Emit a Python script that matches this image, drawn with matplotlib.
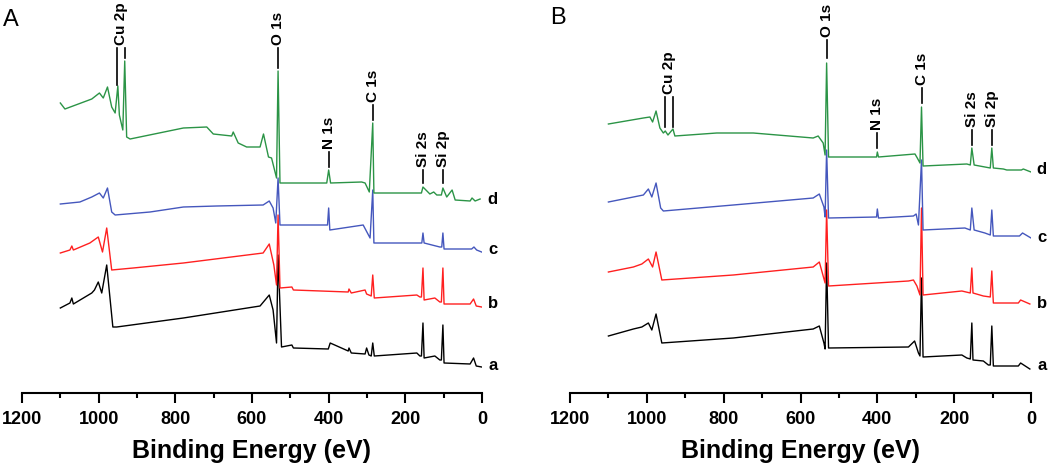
import matplotlib
matplotlib.use('Agg')
import matplotlib.pyplot as plt
from matplotlib.ticker import MultipleLocator

plt.rcParams['font.family'] = ['Liberation Sans', 'DejaVu Sans']

# Survey spectra: binding energy (eV) and intensity (a.u.)
# Panel A
A_a_energy = [1100, 1075, 1070, 1066, 1018, 1011, 1001, 992, 979, 963, 953, 779, 579, 555, 545, 536, 532, 523,
              496, 492, 401, 396, 349, 347, 341, 305, 301, 295, 289, 285, 281, 170, 162, 158, 154, 151, 123, 110,
              106, 102, 99, 31, 22, 15, 1]
A_a_counts = [85, 90, 95, 89, 100, 103, 111, 100, 128, 66, 66, 75, 87, 98, 83, 50, 138, 46,
              48, 45, 44, 50, 42, 45, 40, 39, 45, 38, 37, 50, 37, 40, 37, 37, 70, 35, 37, 33,
              33, 68, 30, 29, 35, 27, 26]

A_b_energy = [1100, 1075, 1070, 1066, 1023, 1001, 990, 979, 966, 910, 779, 571, 555, 543, 536, 532, 527, 496,
              492, 349, 347, 341, 305, 301, 289, 285, 281, 170, 162, 158, 154, 151, 123, 110, 106, 102, 99, 31,
              22, 15, 1]
A_b_counts = [140, 143, 147, 143, 150, 156, 141, 165, 123, 125, 130, 140, 149, 128, 108, 178, 105, 106,
              103, 101, 104, 100, 103, 99, 97, 118, 95, 98, 96, 96, 125, 93, 95, 91, 91, 125, 89, 89,
              94, 87, 86]

A_c_energy = [1100, 1049, 1018, 998, 988, 977, 966, 957, 866, 779, 692, 571, 555, 545, 538, 532, 527, 423,
              403, 400, 397, 310, 292, 285, 282, 162, 157, 154, 151, 110, 105, 102, 99, 27, 21, 14, 1]
A_c_counts = [189, 191, 196, 200, 195, 205, 181, 178, 181, 186, 187, 188, 192, 185, 170, 215, 168, 168,
              168, 185, 163, 168, 155, 203, 150, 150, 150, 160, 150, 146, 146, 160, 144, 144, 146, 143, 141]

A_d_energy = [1100, 1088, 1018, 998, 988, 977, 966, 957, 950, 946, 937, 932, 927, 918, 779, 718, 701, 653,
              649, 636, 614, 579, 570, 557, 549, 536, 532, 527, 405, 400, 395, 314, 305, 294, 285, 282, 170,
              158, 154, 136, 126, 118, 106, 102, 92, 78, 70, 31, 26, 18, 5]
A_d_counts = [290, 284, 294, 300, 295, 306, 286, 280, 307, 278, 263, 332, 256, 254, 265, 266, 259, 257,
              261, 250, 246, 246, 259, 236, 235, 215, 322, 210, 210, 223, 210, 211, 210, 201, 270, 200, 200,
              200, 206, 199, 201, 198, 198, 205, 196, 203, 193, 192, 195, 192, 194]

# Panel B
B_a_energy = [1100, 1035, 1013, 996, 987, 976, 961, 775, 567, 551, 539, 536, 532, 527, 319, 303, 293, 289,
              285, 281, 180, 167, 158, 154, 151, 124, 111, 106, 102, 98, 33, 27, 3]
B_a_counts = [57, 64, 66, 70, 63, 79, 50, 55, 64, 67, 50, 44, 130, 45, 46, 52, 40, 37,
              115, 36, 38, 35, 34, 70, 33, 32, 28, 28, 67, 27, 27, 30, 24]

B_b_energy = [1100, 1035, 1013, 996, 985, 976, 961, 775, 567, 551, 536, 532, 527, 319, 306, 297, 289, 285,
              281, 180, 158, 154, 151, 124, 106, 102, 98, 33, 27, 3]
B_b_counts = [121, 126, 129, 134, 126, 141, 113, 118, 126, 131, 110, 183, 107, 112, 113, 107, 98, 185,
              98, 102, 100, 125, 100, 97, 96, 122, 90, 90, 93, 89]

B_c_energy = [1100, 1009, 996, 987, 976, 964, 957, 775, 567, 551, 539, 536, 532, 527, 402, 400, 397, 306,
              299, 293, 285, 281, 172, 158, 154, 148, 120, 106, 102, 98, 30, 22, 0]
B_c_counts = [191, 198, 204, 196, 210, 185, 182, 188, 195, 199, 186, 176, 243, 175, 176, 184, 175, 177,
              179, 168, 233, 163, 165, 163, 185, 163, 160, 158, 183, 157, 157, 160, 155]

B_d_energy = [1100, 1009, 992, 985, 976, 966, 957, 952, 945, 932, 927, 818, 723, 567, 554, 541, 536, 532,
              527, 402, 400, 397, 302, 296, 289, 285, 281, 167, 158, 154, 148, 120, 106, 102, 98, 72, 63,
              25, 20, 0]
B_d_counts = [269, 275, 276, 271, 282, 265, 260, 262, 258, 264, 257, 260, 260, 255, 257, 250, 238, 330,
              236, 236, 241, 236, 239, 235, 230, 286, 227, 229, 228, 245, 228, 226, 225, 245, 225, 224, 223,
              223, 224, 221]

curve_names = ['a', 'b', 'c', 'd']
peak_names = ['O 1s', 'N 1s', 'C 1s', 'Si 2s', 'Si 2p']
peak_energy = [532, 400, 285, 154, 102]
cu_name = 'Cu 2p'
cu_energy = [952, 932]

colors = ['black', '#ff2020', '#4557bd', '#2b9446']

# marker line spans (bottom, top) for each peak label, per panel
A_marks = {'O 1s': (325, 345), 'N 1s': (226, 241), 'C 1s': (273, 288), 'Si 2s': (210, 223),
           'Si 2p': (210, 223), 'cu': [(308, 345), (335, 345)]}
B_marks = {'O 1s': (335, 353), 'N 1s': (245, 260), 'C 1s': (290, 305), 'Si 2s': (248, 263),
           'Si 2p': (248, 263), 'cu': [(266, 296), (266, 296)]}
A_name_y = [28, 89, 143, 193]
B_name_y = [27, 90, 155, 223]

fig = plt.figure(figsize=(10.5, 4.66), dpi=100)
ax_A = fig.add_axes([22 / 1050, 73 / 466, 460 / 1050, 393 / 466])
ax_B = fig.add_axes([570 / 1050, 73 / 466, 461 / 1050, 393 / 466])

panels = [
    (ax_A, [(A_a_energy, A_a_counts), (A_b_energy, A_b_counts), (A_c_energy, A_c_counts), (A_d_energy, A_d_counts)],
     A_marks, A_name_y),
    (ax_B, [(B_a_energy, B_a_counts), (B_b_energy, B_b_counts), (B_c_energy, B_c_counts), (B_d_energy, B_d_counts)],
     B_marks, B_name_y),
]

for ax, traces, marks, name_y in panels:
    for (x, y), c in zip(traces, colors):
        ax.plot(x, y, color=c, lw=1.0)
    for name, y, in zip(curve_names, name_y):
        ax.text(-28, y, name, fontsize=12, fontweight='bold', ha='center', va='center', clip_on=False)

    for name, e in zip(peak_names, peak_energy):
        lo, hi = marks[name]
        ax.plot([e, e], [lo, hi], color='black', lw=1.2)
        ax.text(e, hi + 3, name, rotation=90, fontsize=11, fontweight='bold',
                ha='center', va='bottom', clip_on=False)
    for e, (lo, hi) in zip(cu_energy, marks['cu']):
        ax.plot([e, e], [lo, hi], color='black', lw=1.2)
    top = max(hi for lo, hi in marks['cu'])
    ax.text(sum(cu_energy) / 2, top + 3, cu_name, rotation=90, fontsize=11, fontweight='bold',
            ha='center', va='bottom', clip_on=False)

    ax.set_xlim(1200, 0)
    ax.set_ylim(0, 393)
    for s in ['left', 'right', 'top']:
        ax.spines[s].set_visible(False)
    ax.spines['bottom'].set_linewidth(1.5)
    ax.set_yticks([])
    ax.xaxis.set_major_locator(MultipleLocator(200))
    ax.xaxis.set_minor_locator(MultipleLocator(100))
    ax.tick_params(axis='x', which='major', length=7, width=1.5, labelsize=13, pad=6)
    ax.tick_params(axis='x', which='minor', length=3.5, width=1.5)
    for lab in ax.get_xticklabels():
        lab.set_fontweight('bold')
    ax.set_xlabel('Binding Energy (eV)', fontsize=18, fontweight='bold', labelpad=8)
    ax.patch.set_visible(False)

fig.text(11 / 1050, 1 - 20 / 466, 'A', fontsize=17, ha='center', va='center')
fig.text(558 / 1050, 1 - 18 / 466, 'B', fontsize=17, ha='center', va='center')

fig.savefig('out.png', dpi=100)
